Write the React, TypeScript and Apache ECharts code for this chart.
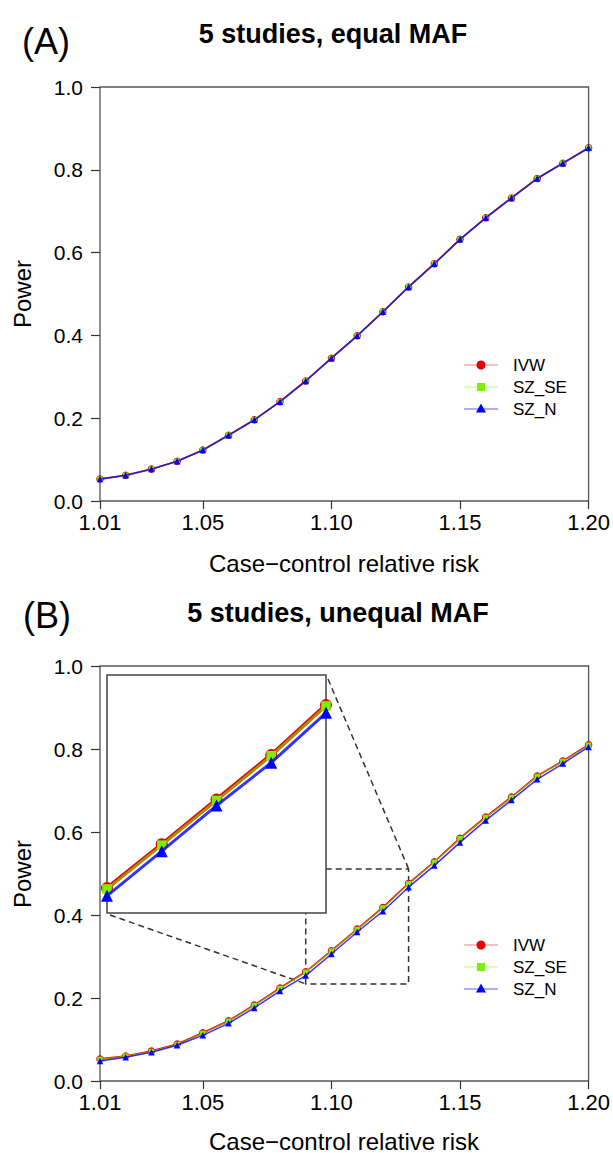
import React, { useEffect, useRef } from "react";
import * as echarts from "echarts";

// ---------- data ----------
const risk = [1.01, 1.02, 1.03, 1.04, 1.05, 1.06, 1.07, 1.08, 1.09, 1.1, 1.11, 1.12, 1.13, 1.14, 1.15, 1.16, 1.17, 1.18, 1.19, 1.2];

const ivwA = [0.053, 0.062, 0.077, 0.096, 0.123, 0.159, 0.196, 0.24, 0.29, 0.345, 0.399, 0.457, 0.517, 0.573, 0.632, 0.684, 0.732, 0.779, 0.816, 0.853];
const szseA = [0.053, 0.062, 0.077, 0.096, 0.123, 0.159, 0.196, 0.24, 0.29, 0.345, 0.399, 0.457, 0.517, 0.573, 0.632, 0.684, 0.732, 0.779, 0.816, 0.853];
const sznA = [0.053, 0.062, 0.077, 0.096, 0.123, 0.159, 0.196, 0.24, 0.29, 0.345, 0.399, 0.457, 0.517, 0.573, 0.632, 0.684, 0.732, 0.779, 0.816, 0.853];

const ivwB = [0.053, 0.06, 0.072, 0.089, 0.116, 0.145, 0.183, 0.224, 0.263, 0.314, 0.366, 0.418, 0.476, 0.528, 0.585, 0.636, 0.684, 0.735, 0.771, 0.81];
const szseB = [0.052, 0.06, 0.071, 0.088, 0.115, 0.144, 0.182, 0.223, 0.262, 0.313, 0.365, 0.417, 0.475, 0.527, 0.584, 0.635, 0.683, 0.734, 0.77, 0.809];
const sznB = [0.048, 0.057, 0.069, 0.086, 0.11, 0.139, 0.176, 0.217, 0.254, 0.306, 0.359, 0.409, 0.467, 0.519, 0.575, 0.628, 0.677, 0.727, 0.765, 0.805];

const xTicks = [1.01, 1.05, 1.1, 1.15, 1.2];
const xRange = [1.01, 1.2];
const yRange = [0, 1];
const insetX = [1.09, 1.13];
const insetY = [0.234, 0.511];

const seriesNames = ["IVW", "SZ_SE", "SZ_N"];
const titleA = "5 studies, equal MAF";
const titleB = "5 studies, unequal MAF";
const xName = "Case\u2212control relative risk";
const yName = "Power";

const FONT = "'Liberation Sans', Arial, Helvetica, sans-serif";

const RED = "#e60000";
const GREEN = "#7cf000";
const BLUE = "#0000ff";

export default function App() {
  const ref = useRef<HTMLDivElement>(null);

  useEffect(() => {
    const chart = echarts.init(ref.current!, null, { renderer: "svg" });

    const grids = [
      { left: 100, top: 87, width: 489, height: 414 },
      { left: 100, top: 666, width: 489, height: 415 },
      { left: 107, top: 675, width: 219, height: 238 },
    ].map((g, i) => ({
      ...g,
      show: i < 2,
      borderColor: "#555",
      borderWidth: 1.3,
      backgroundColor: "transparent",
      containLabel: false,
    }));

    const tickStyle = { color: "#333", width: 1.2 };

    const mainX = (gi: number) => ({
      type: "value",
      gridIndex: gi,
      min: xRange[0],
      max: xRange[1],
      axisLine: { show: false },
      axisTick: { show: true, length: 8, customValues: xTicks, lineStyle: tickStyle },
      axisLabel: {
        show: true,
        customValues: xTicks,
        formatter: (v: number) => v.toFixed(2),
        fontSize: 22,
        color: "#000",
        margin: 10,
        fontFamily: FONT,
      },
      splitLine: { show: false },
    });
    const mainY = (gi: number) => ({
      type: "value",
      gridIndex: gi,
      min: yRange[0],
      max: yRange[1],
      interval: 0.2,
      axisLine: { show: false },
      axisTick: { show: true, length: 9, lineStyle: tickStyle },
      axisLabel: {
        formatter: (v: number) => v.toFixed(1),
        fontSize: 21,
        color: "#000",
        margin: 17,
        fontFamily: FONT,
      },
      splitLine: { show: false },
    });
    const hiddenAxis = (gi: number, r: number[]) => ({
      type: "value",
      gridIndex: gi,
      min: r[0],
      max: r[1],
      axisLine: { show: false },
      axisTick: { show: false },
      axisLabel: { show: false },
      splitLine: { show: false },
    });

    const mk = (
      name: string,
      vals: number[],
      idx: number,
      kind: number,
      big: boolean
    ) => {
      const color = [RED, GREEN, BLUE][kind];
      const symbol = ["circle", "rect", "triangle"][kind];
      const size = big ? [12, 9.5, 12][kind] : [7.5, 5.5, 6.5][kind];
      const lw = big ? [4, 2.6, 3][kind] : [1.8, 1.3, 1.5][kind];
      const op = [1, 0.6, 0.8][kind];
      return {
        type: "line",
        name,
        xAxisIndex: idx,
        yAxisIndex: idx,
        data: risk.map((x, i) => [x, vals[i]]),
        symbol,
        symbolSize: size,
        showAllSymbol: true,
        clip: true,
        z: big ? 10 + kind : 2 + kind,
        lineStyle: { color, width: lw, opacity: op },
        itemStyle: { color, opacity: 1 },
        emphasis: { disabled: true },
        silent: true,
      };
    };

    const series = [
      mk(seriesNames[0], ivwA, 0, 0, false),
      mk(seriesNames[1], szseA, 0, 1, false),
      mk(seriesNames[2], sznA, 0, 2, false),
      mk(seriesNames[0], ivwB, 1, 0, false),
      mk(seriesNames[1], szseB, 1, 1, false),
      mk(seriesNames[2], sznB, 1, 2, false),
      mk(seriesNames[0], ivwB, 2, 0, true),
      mk(seriesNames[1], szseB, 2, 1, true),
      mk(seriesNames[2], sznB, 2, 2, true),
    ];

    chart.setOption({
      animation: false,
      backgroundColor: "#fff",
      grid: grids,
      xAxis: [mainX(0), mainX(1), hiddenAxis(2, insetX)],
      yAxis: [mainY(0), mainY(1), hiddenAxis(2, insetY)],
      series,
    });

    const px = (idx: number, v: number[]) =>
      chart.convertToPixel({ xAxisIndex: idx, yAxisIndex: idx }, v) as number[];

    // zoom rectangle in panel B
    const zTL = px(1, [insetX[0], insetY[1]]);
    const zBR = px(1, [insetX[1], insetY[0]]);
    // inset box corners
    const iTL = px(2, [insetX[0], insetY[1]]);
    const iBR = px(2, [insetX[1], insetY[0]]);

    const dash = { stroke: "#333", lineWidth: 1.5, lineDash: [6, 4], fill: null };

    const legend = (cy: number) => {
      const rows = [0, 1, 2].map((k) => {
        const y = cy + k * 22;
        const color = [RED, GREEN, BLUE][k];
        const lineColor = ["#f08080", "#b8ff80", "#6060ff"][k];
        const mark =
          k === 0
            ? { type: "circle", shape: { cx: 481, cy: y, r: 4.5 }, style: { fill: color } }
            : k === 1
            ? { type: "rect", shape: { x: 477, y: y - 4, width: 8, height: 8 }, style: { fill: color } }
            : {
                type: "polygon",
                shape: { points: [[481, y - 5.5], [476, y + 3.5], [486, y + 3.5]] },
                style: { fill: color },
              };
        return [
          { type: "line", shape: { x1: 464, y1: y, x2: 498, y2: y }, style: { stroke: lineColor, lineWidth: 1.2 } },
          mark,
          {
            type: "text",
            x: 513,
            y,
            style: {
              text: seriesNames[k],
              font: `17px ${FONT}`,
              fill: "#000",
              textVerticalAlign: "middle",
              verticalAlign: "middle",
            },
          },
        ];
      });
      return rows.flat();
    };

    const txt = (text: string, x: number, y: number, font: string, rot = 0) => ({
      type: "text",
      x,
      y,
      rotation: rot,
      style: {
        text,
        font,
        fill: "#000",
        textAlign: "center",
        align: "center",
        textVerticalAlign: "middle",
        verticalAlign: "middle",
      },
    });

    chart.setOption({
      graphic: [
        // panel labels, titles, axis names
        txt("(A)", 46, 41, `36px ${FONT}`),
        txt(titleA, 333, 34, `bold 27px ${FONT}`),
        txt(yName, 22, 294, `24px ${FONT}`, Math.PI / 2),
        txt(xName, 344, 563, `24px ${FONT}`),
        txt("(B)", 47, 615, `36px ${FONT}`),
        txt(titleB, 338, 613, `bold 27px ${FONT}`),
        txt(yName, 22, 874, `24px ${FONT}`, Math.PI / 2),
        txt(xName, 344, 1141, `24px ${FONT}`),
        // zoom rectangle (below inset)
        {
          type: "rect",
          z: 1,
          shape: { x: zTL[0], y: zTL[1], width: zBR[0] - zTL[0], height: zBR[1] - zTL[1] },
          style: dash,
        },
        // connecting lines
        {
          type: "line",
          z: 1,
          shape: { x1: iBR[0] + 2, y1: iTL[1] + 4, x2: zBR[0], y2: zTL[1] },
          style: dash,
        },
        {
          type: "line",
          z: 1,
          shape: { x1: iTL[0] + 3, y1: iBR[1] + 2, x2: zTL[0], y2: zBR[1] },
          style: dash,
        },
        // inset box
        {
          type: "rect",
          z: 5,
          shape: { x: iTL[0], y: iTL[1], width: iBR[0] - iTL[0], height: iBR[1] - iTL[1] },
          style: { fill: "#fff", stroke: "#444", lineWidth: 1.5 },
        },
        ...legend(365),
        ...legend(945),
      ],
    });

    return () => chart.dispose();
  }, []);

  return (
    <div
      ref={ref}
      style={{ position: "absolute", left: 0, top: 0, width: 613, height: 1153, background: "#fff" }}
    />
  );
}
